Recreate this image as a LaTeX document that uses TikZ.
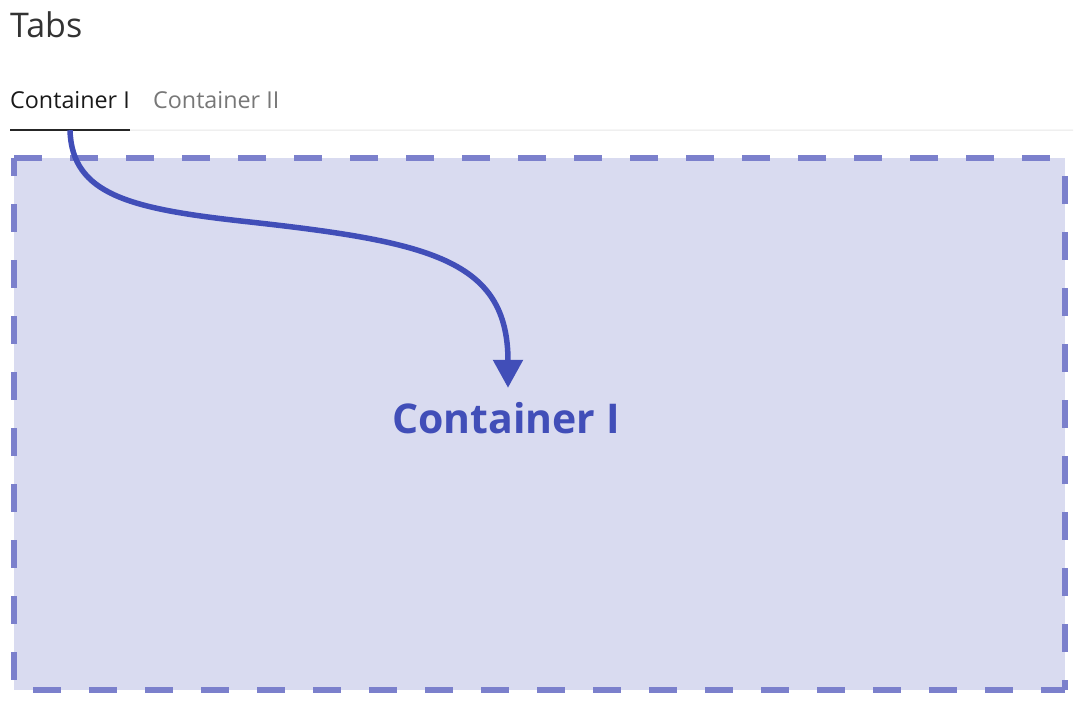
\documentclass[tikz,border=0pt]{standalone}
\usepackage{fontspec}
\setmainfont{Open Sans}
\usepackage{tikz}
\usetikzlibrary{positioning,arrows.meta}

\definecolor{titlegray}{HTML}{333333}
\definecolor{tabgray}{HTML}{777777}
\definecolor{rulegray}{HTML}{E6E6E6}
\definecolor{boxfill}{HTML}{D9DBF0}
\definecolor{boxline}{HTML}{7B80CC}
\definecolor{accent}{HTML}{414EB8}

\tikzset{
  tab/.style={inner sep=0pt, text depth=22pt, font=\fontsize{23.3}{27}\selectfont},
  dashside/.style={draw=boxline, line width=6pt, dash pattern=on 28pt off 28pt}
}

\begin{document}
\begin{tikzpicture}[x=1pt, y=-1pt]
				\useasboundingbox (0,0) rectangle (1089,713);

				\node[anchor=base west, inner sep=0pt, text=titlegray,
				      font=\fontsize{34}{39}\selectfont] (title) at (10,37) {Tabs};

				\node[tab, anchor=base west, text=black!90] (tabone) at (10,108) {Container I};
				\node[tab, text=tabgray, right=23pt of tabone] (tabtwo) {Container II};

				\coordinate (ruleend) at (1073,130);
				\draw[rulegray, line width=1pt] (tabone.south east) -- (ruleend);
				\draw[black!85, line width=1.6pt] (tabone.south west) -- (tabone.south east);

				% content panel
				\fill[boxfill] (14,158) rectangle (1065,690);
				\draw[dashside] (14,158) -- (1065,158);
				\draw[dashside, dash phase=10pt] (14,158) -- (14,690);
				\draw[dashside, dash phase=38pt] (1065,158) -- (1065,690);
				\draw[dashside, dash phase=37pt] (14,690) -- (1065,690);

				\node[anchor=base, inner xsep=0pt, inner ysep=15pt, text height=30pt, text=accent,
				      font=\fontsize{41}{48}\selectfont\bfseries] (panel) at (506,433) {Container I};

				\coordinate (bend) at (250,222);
				\draw[accent, line width=5.5pt, -{Triangle[width=29pt,length=28pt]}]
				  (tabone.south) .. controls (72,195) and (130,209) .. (bend)
				  .. controls (430,242) and (508,260) .. (panel.north -| 508,0);

			\end{tikzpicture}
\end{document}
